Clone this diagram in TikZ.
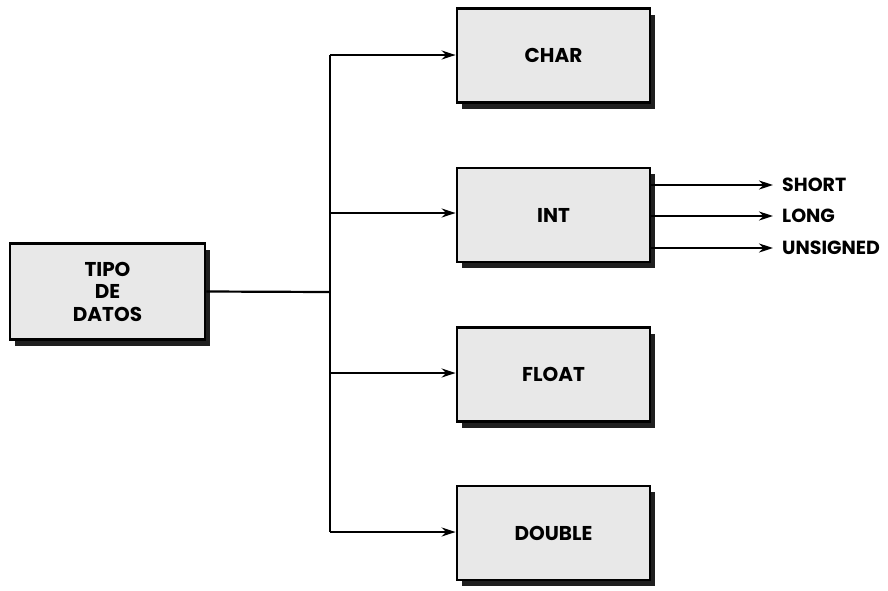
\documentclass[tikz,border=0pt]{standalone}
\usepackage{fontspec}
\setmainfont{Poppins}
\usetikzlibrary{arrows.meta,shadows}
\begin{document}
\begin{tikzpicture}[x=1pt,y=-1pt,
  box/.style={draw=black,line width=2.8pt,fill=black!9,minimum width=193pt,minimum height=94pt,inner sep=0pt,
    font=\bfseries\fontsize{20}{22.5}\selectfont,align=center,
    drop shadow={shadow xshift=5pt,shadow yshift=-6pt,fill=black!88,opacity=1}},
  conn/.style={line width=2.2pt,-{Stealth[length=14pt,width=9pt]}},
  lbl/.style={anchor=west,inner sep=0pt,font=\bfseries\fontsize{19}{22}\selectfont}]
\useasboundingbox (0,0) rectangle (888,590);
\node[box,minimum width=195pt,minimum height=96pt] (tipo) at (107.5,291.5) {TIPO\\DE\\DATOS};
\node[box] (char) at (553.5,55.5) {CHAR};
\node[box] (int) at (553.5,215) {INT};
\node[box] (float) at (553.5,374.5) {FLOAT};
\node[box] (double) at (553.5,533) {DOUBLE};
\coordinate (j) at (330,292);
\draw[line width=2.2pt] (tipo.east) -- (j);
\draw[line width=2.2pt] (330,55) -- (330,532);
\draw[conn] (330,55) -- (char.west |- 330,55);
\draw[conn] (330,213) -- (int.west |- 330,213);
\draw[conn] (330,373) -- (float.west |- 330,373);
\draw[conn] (330,532) -- (double.west |- 330,532);
\node[lbl] (short) at (782,185) {SHORT};
\node[lbl] (long) at (782,216) {LONG};
\node[lbl] (uns) at (782,248) {UNSIGNED};
\draw[conn] (int.east |- short) -- ([xshift=-9pt]short.west);
\draw[conn] (int.east |- long) -- ([xshift=-9pt]long.west);
\draw[conn] (int.east |- uns) -- ([xshift=-9pt]uns.west);
\end{tikzpicture}
\end{document}
